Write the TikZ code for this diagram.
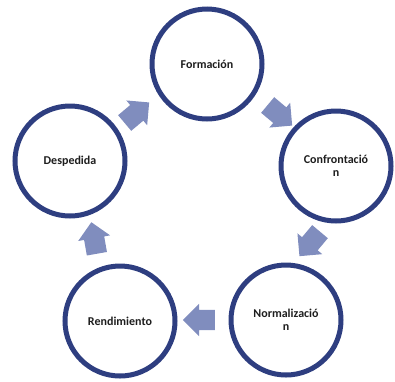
\documentclass[tikz,border=0pt]{standalone}
\usepackage{fontspec}
\setmainfont{Carlito}
\usetikzlibrary{shapes.arrows}
\definecolor{ringblue}{RGB}{46,62,128}
\definecolor{arrowblue}{RGB}{128,141,190}
\definecolor{labelgray}{RGB}{30,30,30}
\tikzset{
  stage/.style={circle, draw=ringblue, line width=5pt, fill=white,
    minimum size=110pt, inner sep=0pt, align=center,
    font=\bfseries\fontsize{12}{13}\selectfont, text=labelgray},
  flow/.style={single arrow, fill=arrowblue, draw=none, inner sep=10pt,
    minimum height=32pt, single arrow head extend=6pt}
}
\begin{document}
\begin{tikzpicture}[x=1pt,y=-1pt]
  \useasboundingbox (0,0) rectangle (395,381);
  % stages of the cycle
  \node[stage] (formacion) at (207,64) {Formación};
  \node[stage] (confrontacion) at (336,166) {Confrontació\\n};
  \node[stage] (normalizacion) at (286,320) {Normalizació\\n};
  \node[stage] (rendimiento) at (120,321) {Rendimiento};
  \node[stage] (despedida) at (70,161) {Despedida};
  % block arrows between stages
  \node[flow, rotate=40] (a1) at (133,116) {};
  \node[flow, rotate=-40] (a2) at (276,112) {};
  \node[flow, rotate=-130] (a3) at (313,240) {};
  \node[flow, rotate=180] (a4) at (204,320) {};
  \node[flow, rotate=100] (a5) at (95,243) {};
\end{tikzpicture}
\end{document}
